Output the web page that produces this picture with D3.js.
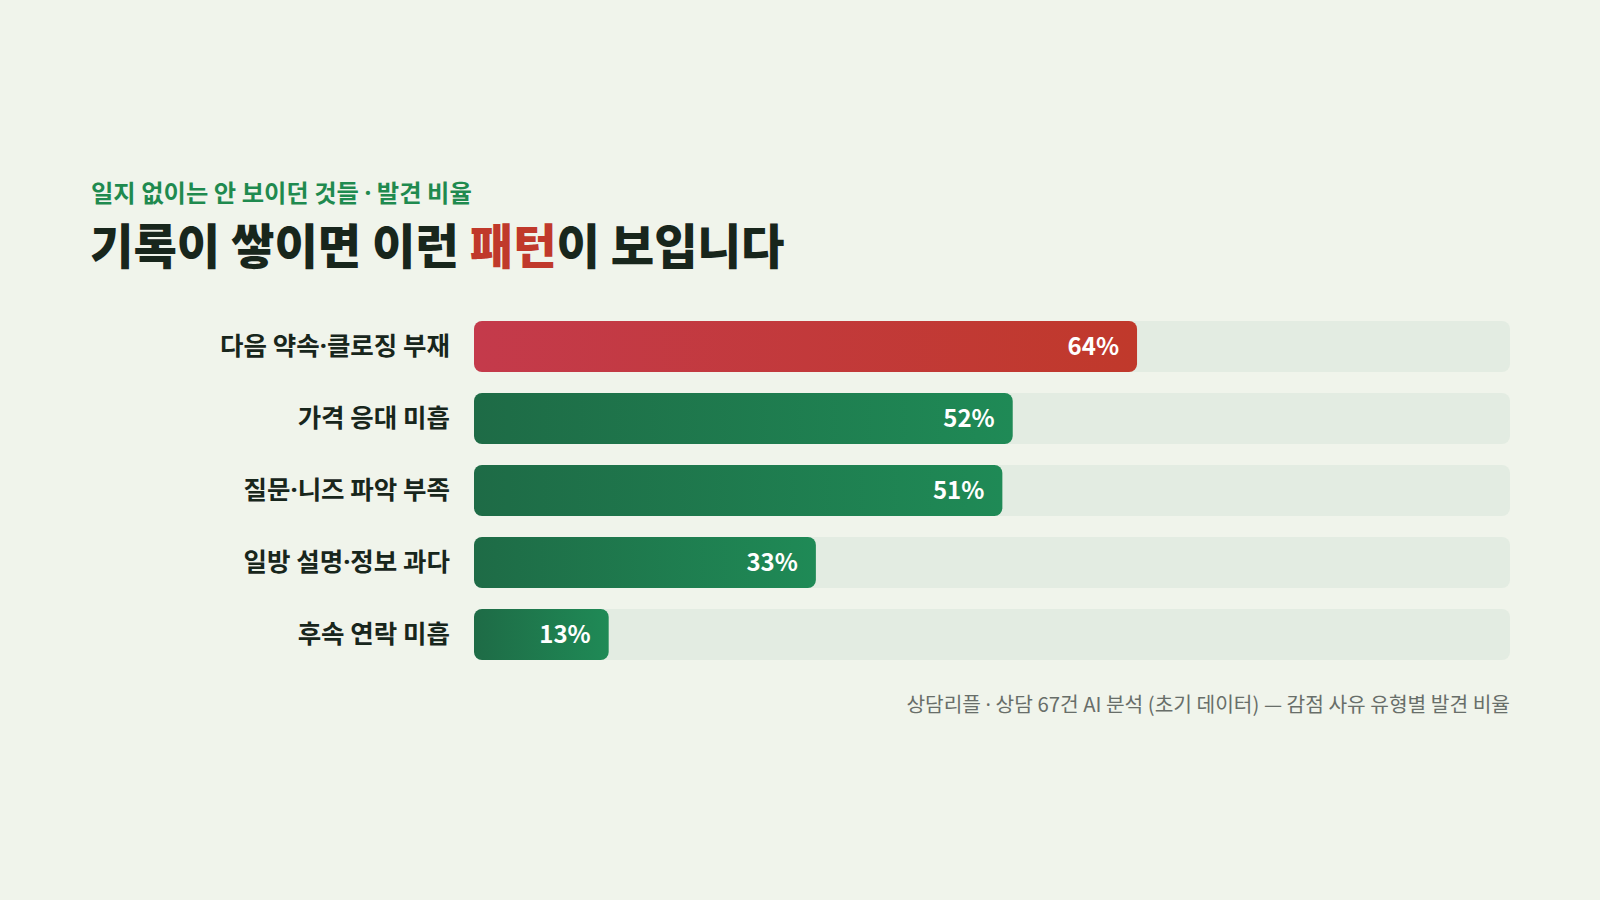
<!DOCTYPE html>
<html>
<head>
<meta charset="utf-8">
<script src="https://cdn.jsdelivr.net/npm/d3@7"></script>
<style>
  html, body { margin: 0; padding: 0; background: #f0f4eb; }
  svg { display: block; font-family: 'Noto Sans CJK KR', 'Noto Sans', sans-serif; }
</style>
</head>
<body>
<div id="chart"></div>
<script>
const categories = ['다음 약속·클로징 부재', '가격 응대 미흡', '질문·니즈 파악 부족', '일방 설명·정보 과다', '후속 연락 미흡']
const values = [64, 52, 51, 33, 13]
const highlight = [true, false, false, false, false]
const subtitle = '일지 없이는 안 보이던 것들 · 발견 비율'
const titleParts = [
  { text: '기록이 쌓이면 이런 ', red: false },
  { text: '패턴', red: true },
  { text: '이 보입니다', red: false },
]
const footnote = '상담리플 · 상담 67건 AI 분석 (초기 데이터) — 감점 사유 유형별 발견 비율'

const width = 1600
const height = 900
const margin = { left: 474, right: 90, top: 321 }
const innerW = width - margin.left - margin.right
const step = 72
const barH = 51

// the CJK middle dot is full width; draw it in a latin face so it stays narrow
function withNarrowDots(sel, str) {
  str.split(/(·)/).filter((s) => s !== '').forEach((part) => {
    const t = sel.append('tspan').text(part)
    if (part === '·') t.style('font-family', "'Noto Sans', sans-serif")
  })
}

const svg = d3.select('#chart').append('svg').attr('width', width).attr('height', height)

svg.append('rect').attr('width', width).attr('height', height).attr('fill', '#f0f4eb')

const defs = svg.append('defs')
const redGrad = defs.append('linearGradient').attr('id', 'g-red')
redGrad.append('stop').attr('offset', '0%').attr('stop-color', '#c43a4b')
redGrad.append('stop').attr('offset', '100%').attr('stop-color', '#c0392b')
const greenGrad = defs.append('linearGradient').attr('id', 'g-green')
greenGrad.append('stop').attr('offset', '0%').attr('stop-color', '#1e6b46')
greenGrad.append('stop').attr('offset', '100%').attr('stop-color', '#1f8a56')

// headings
const sub = svg.append('text')
  .attr('x', 91).attr('y', 202)
  .attr('fill', '#1f8a4f')
  .style('font-size', '24.3px').style('font-weight', 700)
withNarrowDots(sub, subtitle)

const title = svg.append('text')
  .attr('x', 90).attr('y', 264)
  .attr('fill', '#18261c')
  .style('font-size', '47.2px').style('font-weight', 900)
title.selectAll('tspan').data(titleParts).join('tspan')
  .attr('fill', (d) => (d.red ? '#c0392b' : '#18261c'))
  .text((d) => d.text)

const x = d3.scaleLinear().domain([0, 100]).range([0, innerW])
const y = d3.scaleBand().domain(categories)
  .range([0, step * categories.length - (step - barH)])
  .paddingInner((step - barH) / step).paddingOuter(0)

const g = svg.append('g').attr('transform', `translate(${margin.left},${margin.top})`)

const rows = g.selectAll('g.row').data(categories.map((c, i) => ({ c, v: values[i], hi: highlight[i] })))
  .join('g').attr('class', 'row')
  .attr('transform', (d) => `translate(0,${y(d.c)})`)

rows.append('rect')
  .attr('width', x(100)).attr('height', y.bandwidth())
  .attr('rx', 8).attr('fill', '#e3ece2')

rows.append('rect')
  .attr('width', (d) => x(d.v)).attr('height', y.bandwidth())
  .attr('rx', 8)
  .attr('fill', (d) => (d.hi ? 'url(#g-red)' : 'url(#g-green)'))

rows.append('text')
  .attr('x', (d) => x(d.v) - 18)
  .attr('y', y.bandwidth() / 2)
  .attr('dy', '0.36em')
  .attr('text-anchor', 'end')
  .attr('fill', '#ffffff')
  .style('font-size', '24px').style('font-weight', 700)
  .text((d) => d.v + '%')

rows.append('text')
  .attr('x', -24)
  .attr('y', y.bandwidth() / 2 - 1)
  .attr('dy', '0.36em')
  .attr('text-anchor', 'end')
  .attr('fill', '#18261c')
  .style('font-size', '25.5px').style('font-weight', 700)
  .each(function (d) { withNarrowDots(d3.select(this), d.c) })

const foot = svg.append('text')
  .attr('x', margin.left + innerW).attr('y', 712)
  .attr('text-anchor', 'end')
  .attr('fill', '#686e69')
  .style('font-size', '20.3px')
withNarrowDots(foot, footnote)
</script>
</body>
</html>
